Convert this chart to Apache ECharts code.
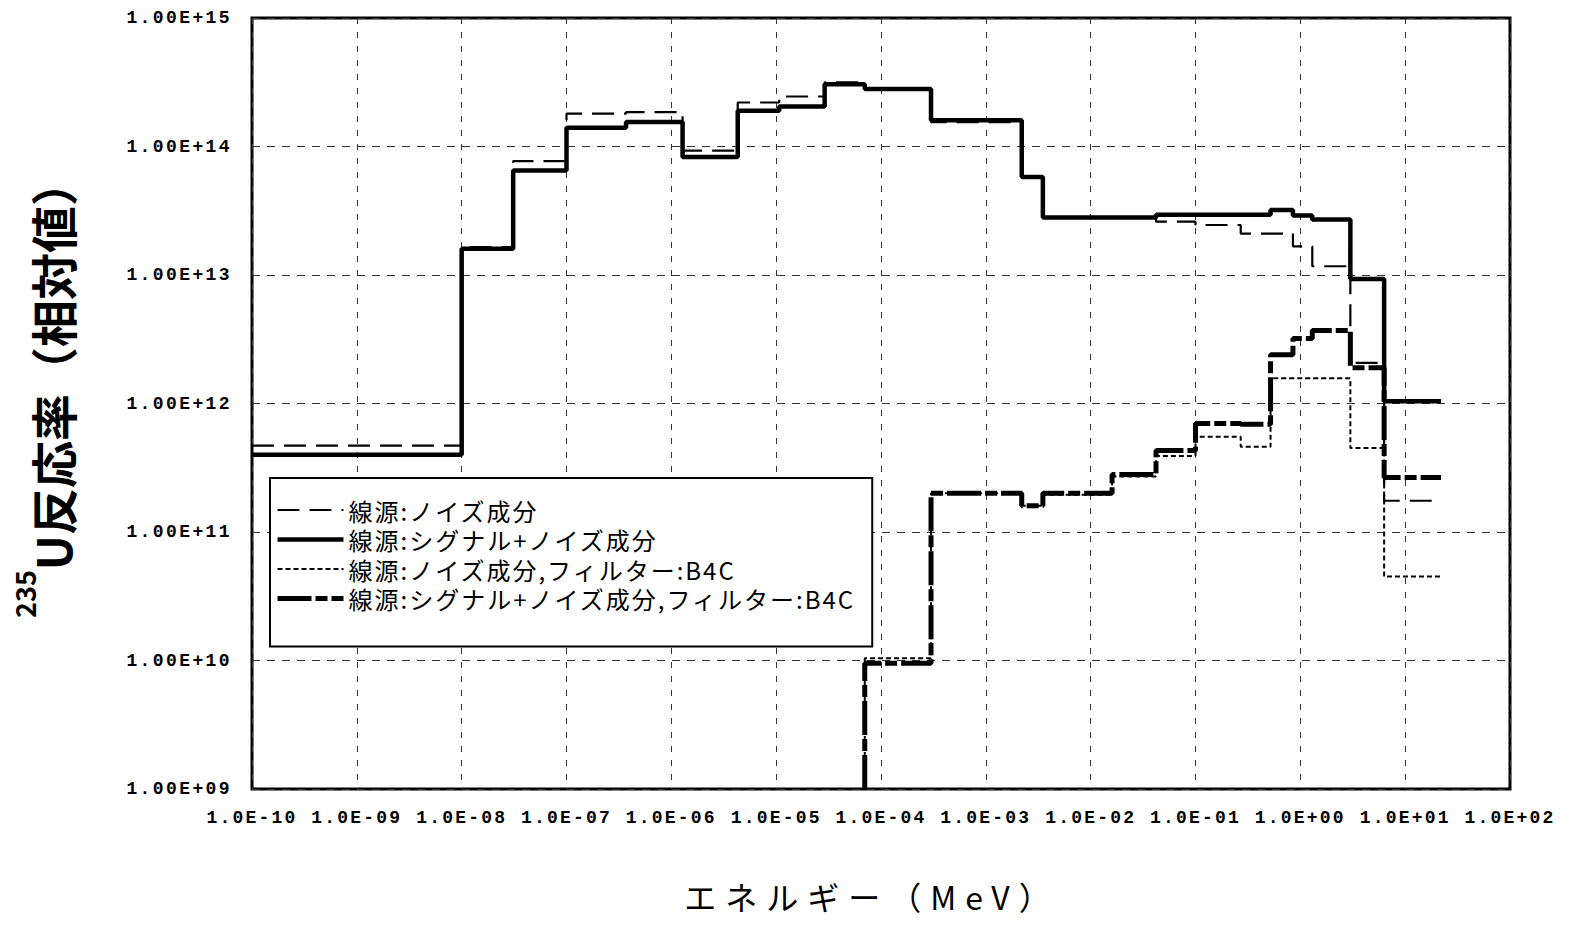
<!DOCTYPE html>
<html>
<head>
<meta charset="utf-8">
<title>235U反応率</title>
<script src="https://cdn.jsdelivr.net/npm/echarts@6/dist/echarts.min.js"></script>
<style>
  html, body { margin: 0; padding: 0; background: #fff; }
  #chart { width: 1574px; height: 931px; }
  /* wide tracking for tick labels, legend entries and the energy axis title */
  #chart text[style*="DejaVu Sans Mono"] { letter-spacing: 2.4px; }
  #chart text[style*="Courier"] { letter-spacing: 2.2px; }
  #chart text[style*="Lato"] { letter-spacing: 9px; }
  #chart text[style*="Roboto"] { letter-spacing: 2px; }
</style>
</head>
<body>
<div id="chart"></div>
<script>
// Energy group boundaries (MeV)
const EDGES = [1e-10, 1e-8, 3.1e-8, 1e-7, 3.7e-7, 1.28e-6, 4.3e-6, 1.07e-5, 2.9e-5,
  7.0e-5, 3.0e-4, 2.2e-3, 3.5e-3, 1.6e-2, 4.2e-2, 1.0e-1, 2.7e-1, 5.2e-1, 8.5e-1,
  1.3, 3.0, 6.3, 22];

// 235U reaction rate per group (relative)
const NOISE = [4.7e11, 1.65e13, 7.7e13, 1.8e14, 1.85e14, 9.3e13, 2.2e14, 2.45e14, 3.15e14,
  2.8e14, 1.55e14, 5.8e13, 2.8e13, 2.8e13, 2.6e13, 2.45e13, 2.1e13, 2.1e13, 1.67e13,
  1.17e13, 2.07e12, 1.75e11];
const SIGNAL_NOISE = [4.0e11, 1.6e13, 6.5e13, 1.4e14, 1.55e14, 8.3e13, 1.9e14, 2.05e14, 3.05e14,
  2.8e14, 1.6e14, 5.8e13, 2.8e13, 2.8e13, 2.95e13, 2.95e13, 2.95e13, 3.2e13, 2.9e13,
  2.7e13, 9.3e12, 1.04e12];
// With B4C filter: values from group B4C_START onward (lower groups are below the axis range)
const B4C_START = 9;
const NOISE_B4C = [1.04e10, 2.0e11, 1.6e11, 1.95e11, 2.7e11, 3.9e11, 5.5e11, 4.6e11,
  1.57e12, 1.57e12, 1.57e12, 4.5e11, 4.5e10];
const SIGNAL_NOISE_B4C = [9.5e9, 2.0e11, 1.6e11, 2.0e11, 2.8e11, 4.3e11, 7.0e11, 6.9e11,
  2.4e12, 3.2e12, 3.7e12, 1.9e12, 2.65e11];

const SERIES_NAMES = [
  '線源:ノイズ成分',
  '線源:シグナル+ノイズ成分',
  '線源:ノイズ成分,フィルター:B4C',
  '線源:シグナル+ノイズ成分,フィルター:B4C'
];

const X_MIN = 1e-10, X_MAX = 1e2;
const Y_MIN = 1e9, Y_MAX = 1e15;
const X_TICK_LABELS = ['1.0E-10', '1.0E-09', '1.0E-08', '1.0E-07', '1.0E-06', '1.0E-05',
  '1.0E-04', '1.0E-03', '1.0E-02', '1.0E-01', '1.0E+00', '1.0E+01', '1.0E+02'];
const Y_TICK_LABELS = ['1.00E+09', '1.00E+10', '1.00E+11', '1.00E+12', '1.00E+13',
  '1.00E+14', '1.00E+15'];
const X_TITLE = 'エネルギー（MeV）';
const Y_TITLE = '{s|235}{m|U反応率（相対値）}';

// Line styles: dashed, solid, dotted, dash-dot
const STYLE_NOISE = { color: '#000', width: 2.2, type: [22, 10], cap: 'butt' };
const STYLE_SIGNAL_NOISE = { color: '#000', width: 4.5, type: 'solid' };
const STYLE_NOISE_B4C = { color: '#000', width: 2, type: [5, 3], cap: 'butt' };
const STYLE_SIGNAL_NOISE_B4C = { color: '#000', width: 5, type: [34, 4, 12, 4], cap: 'butt' };
const LEGEND_STYLES = [STYLE_NOISE, STYLE_SIGNAL_NOISE, STYLE_NOISE_B4C, STYLE_SIGNAL_NOISE_B4C];

// Turn per-group values into a histogram outline (two points per group)
function histogram(values, startGroup, fromFloor) {
  const pts = [];
  if (fromFloor) pts.push([EDGES[startGroup], Y_MIN]);
  values.forEach((v, i) => {
    const g = startGroup + i;
    pts.push([EDGES[g], v], [EDGES[g + 1], v]);
  });
  return pts;
}

const chart = echarts.init(document.getElementById('chart'), null, { renderer: 'svg' });

const baseSeries = { type: 'line', symbol: 'none', showSymbol: false, silent: true, animation: false };

chart.setOption({
  backgroundColor: '#fff',
  animation: false,
  grid: {
    left: 252, right: 64, top: 18, bottom: 142,
    show: true, borderColor: '#000', borderWidth: 3, backgroundColor: 'transparent'
  },
  legend: {
    data: SERIES_NAMES.map((name, i) => ({ name: name, lineStyle: { width: LEGEND_STYLES[i].width } })),
    orient: 'vertical',
    left: 270, top: 478,
    itemWidth: 66, itemHeight: 14, itemGap: 3.5,
    padding: [19, 62, 35, 5],
    backgroundColor: '#fff', borderColor: '#000', borderWidth: 2, borderRadius: 0,
    selectedMode: false,
    itemStyle: { opacity: 0 },
    textStyle: { fontFamily: 'Noto Sans CJK JP, Roboto', fontSize: 24, lineHeight: 26, fontWeight: 'normal', color: '#000' }
  },
  xAxis: {
    type: 'log', logBase: 10, min: X_MIN, max: X_MAX, interval: 1,
    axisLine: { show: false }, axisTick: { show: false },
    axisLabel: {
      margin: 20, color: '#000', fontSize: 18, fontWeight: 'bold', fontFamily: 'Liberation Mono, Courier',
      formatter: v => X_TICK_LABELS[Math.round(Math.log10(v)) - Math.round(Math.log10(X_MIN))]
    },
    splitLine: { show: true, lineStyle: { color: '#333', width: 1, type: [6, 8] } },
    name: X_TITLE, nameLocation: 'middle', nameGap: 91,
    nameTextStyle: { fontFamily: 'Noto Sans CJK JP, Lato', fontSize: 32, color: '#000', padding: [0, 18, 0, 0] }
  },
  yAxis: {
    type: 'log', logBase: 10, min: Y_MIN, max: Y_MAX, interval: 1,
    axisLine: { show: false }, axisTick: { show: false },
    axisLabel: {
      margin: 20, color: '#000', fontSize: 18, fontWeight: 'bold', fontFamily: 'Liberation Mono, DejaVu Sans Mono',
      formatter: v => Y_TICK_LABELS[Math.round(Math.log10(v)) - Math.round(Math.log10(Y_MIN))]
    },
    splitLine: { show: true, lineStyle: { color: '#333', width: 1, type: [8, 7] } },
    name: Y_TITLE, nameLocation: 'middle', nameRotate: 90, nameGap: 160,
    nameTextStyle: {
      color: '#000',
      padding: [0, 0, 0, 30],
      rich: {
        s: { fontFamily: 'Noto Sans CJK JP', fontSize: 27, lineHeight: 27, fontWeight: 'bold', verticalAlign: 'top', color: '#000' },
        m: { fontFamily: 'Noto Sans CJK JP', fontSize: 47, lineHeight: 81, fontWeight: 'bold', color: '#000' }
      }
    }
  },
  series: [
    Object.assign({}, baseSeries, {
      name: SERIES_NAMES[2], z: 2,
      data: histogram(NOISE_B4C, B4C_START, true),
      lineStyle: STYLE_NOISE_B4C
    }),
    Object.assign({}, baseSeries, {
      name: SERIES_NAMES[0], z: 3,
      data: histogram(NOISE, 0, false),
      lineStyle: STYLE_NOISE
    }),
    Object.assign({}, baseSeries, {
      name: SERIES_NAMES[3], z: 4,
      data: histogram(SIGNAL_NOISE_B4C, B4C_START, true),
      lineStyle: STYLE_SIGNAL_NOISE_B4C
    }),
    Object.assign({}, baseSeries, {
      name: SERIES_NAMES[1], z: 5,
      data: histogram(SIGNAL_NOISE, 0, false),
      lineStyle: STYLE_SIGNAL_NOISE
    })
  ]
});
</script>
</body>
</html>
